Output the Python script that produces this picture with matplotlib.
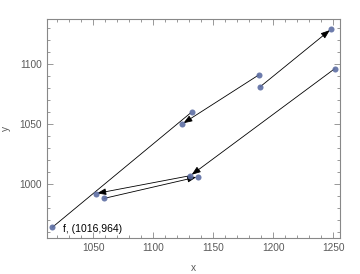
import matplotlib
matplotlib.use("Agg")
import matplotlib.pyplot as plt

# points (x, y)
px = [1016, 1052, 1059, 1131, 1137, 1124, 1132, 1188, 1189, 1248, 1251]
py = [964, 992, 988, 1007, 1006, 1050, 1060, 1091, 1081, 1129, 1096]

# segments between points: start index, end index, arrow head or not
seg_from = [0, 7, 10, 3, 2, 8]
seg_to = [6, 5, 3, 1, 4, 9]
seg_head = [False, True, True, True, True, True]

label_text = "f, (1016,964)"
label_idx = 0

plt.rcParams['font.family'] = ['Liberation Sans', 'DejaVu Sans']

fig = plt.figure(figsize=(3.6, 2.74), dpi=100)
ax = fig.add_axes([0.1297, 0.1314, 0.8156, 0.7982])

for a, b, h in zip(seg_from, seg_to, seg_head):
    style = "-|>,head_length=0.6,head_width=0.22" if h else "-"
    ax.annotate("", xy=(px[b], py[b]), xytext=(px[a], py[a]),
                arrowprops=dict(arrowstyle=style, color="black",
                                lw=0.6, mutation_scale=9, shrinkA=0, shrinkB=1))

ax.scatter(px, py, s=19, color="#5d6ea3", alpha=0.9, zorder=3, linewidths=0)
ax.annotate(label_text, (px[label_idx], py[label_idx]), xytext=(7.5, -1.5),
            textcoords="offset points", fontsize=7.5, va="center")

ax.set_xlim(1011.2, 1255.8)
ax.set_ylim(955.0, 1137.3)
ax.set_xticks([1050, 1100, 1150, 1200, 1250])
ax.set_yticks([1000, 1050, 1100])
ax.set_xticks(range(1020, 1256, 10), minor=True)
ax.set_yticks(range(960, 1137, 10), minor=True)
ax.tick_params(which="both", direction="in", top=True, right=True,
               color="#888888", labelsize=7.3, labelcolor="#5a5a5a", width=0.6)
ax.tick_params(which="major", length=4)
ax.tick_params(which="minor", length=2)
for s in ax.spines.values():
    s.set_color("#888888")
    s.set_linewidth(0.8)

ax.set_xlabel("x", fontsize=7.3, color="#5a5a5a", labelpad=7)
ax.set_ylabel("y", fontsize=7.3, color="#5a5a5a", labelpad=6)

fig.savefig("out.png", dpi=100)
